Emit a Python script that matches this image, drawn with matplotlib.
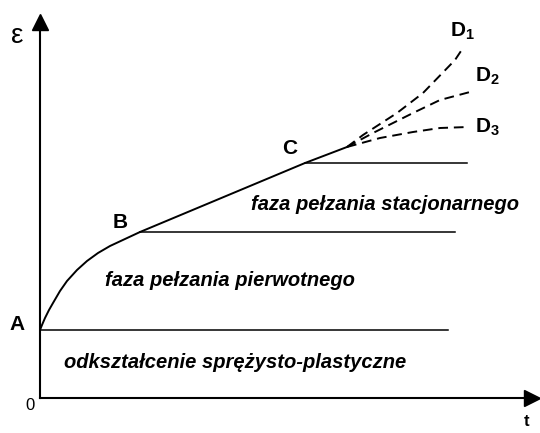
import numpy as np
import matplotlib.pyplot as plt

plt.rcParams['font.family'] = ['Liberation Sans', 'DejaVu Sans']
plt.rcParams['mathtext.fontset'] = 'custom'
plt.rcParams['mathtext.bf'] = 'Liberation Sans:bold'
plt.rcParams['mathtext.rm'] = 'Liberation Sans'

# creep curve (t, eps in arbitrary units)
t_prim = [0.0, 0.04, 0.10, 0.18, 0.26, 0.40, 0.54, 0.74, 0.94, 1.16, 1.40, 1.70, 2.00]
e_prim = [1.36, 1.46, 1.60, 1.76, 1.90, 2.14, 2.34, 2.56, 2.74, 2.90, 3.04, 3.18, 3.32]
t_stat = [2.00, 5.30, 6.14]
e_stat = [3.32, 4.70, 5.02]

# tertiary branches D1, D2, D3
t_d1 = [6.14, 6.46, 7.14, 7.66, 8.30, 8.46]
e_d1 = [5.02, 5.26, 5.70, 6.10, 6.76, 7.00]
t_d2 = [6.14, 6.66, 7.46, 8.00, 8.60]
e_d2 = [5.02, 5.30, 5.70, 5.96, 6.12]
t_d3 = [6.14, 6.80, 7.46, 8.00, 8.56]
e_d3 = [5.02, 5.20, 5.32, 5.40, 5.42]

# horizontal reference lines: level, start, end
h_lev = [1.36, 3.32, 4.70]
h_start = [0.0, 2.00, 5.30]
h_end = [8.16, 8.30, 8.54]

fig = plt.figure(figsize=(5.4, 4.33), dpi=100)
ax = fig.add_axes([40/540, 35/433, 492/540, 376/433])
ax.set_xlim(0, 9.84)
ax.set_ylim(0, 7.52)

for s in ['top', 'right']:
    ax.spines[s].set_visible(False)
for s in ['left', 'bottom']:
    ax.spines[s].set_linewidth(1.5)
ax.set_xticks([])
ax.set_yticks([])
ax.plot(1, 0, '>k', ms=12, transform=ax.transAxes, clip_on=False)
ax.plot(0, 1, '^k', ms=12, transform=ax.transAxes, clip_on=False)

ax.plot(t_prim, e_prim, 'k-', lw=1.4, solid_capstyle='round')
ax.plot(t_stat, e_stat, 'k-', lw=1.4, solid_capstyle='round')
for tt, ee in [(t_d1, e_d1), (t_d2, e_d2), (t_d3, e_d3)]:
    ax.plot(tt, ee, 'k', lw=1.4, linestyle=(0, (5, 3)))

for lev, a, b in zip(h_lev, h_start, h_end):
    ax.plot([a, b], [lev, lev], 'k-', lw=1.1)

# point labels
lab_kw = dict(fontsize=15, fontweight='bold', ha='center', va='center')
ax.text(-0.46, 1.46, 'A', clip_on=False, **lab_kw)
ax.text(1.6, 3.5, 'B', **lab_kw)
ax.text(5.0, 5.0, 'C', **lab_kw)
ax.text(8.45, 7.34, r'$\mathbf{D}_\mathbf{1}$', **lab_kw)
ax.text(8.95, 6.44, r'$\mathbf{D}_\mathbf{2}$', **lab_kw)
ax.text(8.95, 5.42, r'$\mathbf{D}_\mathbf{3}$', **lab_kw)

# phase descriptions
ph_kw = dict(fontsize=14.5, fontweight='bold', style='italic', ha='center', va='center')
ax.text(6.9, 3.86, 'faza pełzania stacjonarnego', **ph_kw)
ax.text(3.8, 2.36, 'faza pełzania pierwotnego', **ph_kw)
ax.text(3.9, 0.70, 'odkształcenie sprężysto-plastyczne', **ph_kw)

# axis names
ax.text(-0.46, 7.24, 'ε', fontsize=20, ha='center', va='center', clip_on=False)
ax.text(-0.2, -0.14, '0', fontsize=12, ha='center', va='center', clip_on=False)
ax.text(9.74, -0.48, 't', fontsize=12, fontweight='bold', ha='center', va='center', clip_on=False)

fig.savefig('out.png', dpi=100)
